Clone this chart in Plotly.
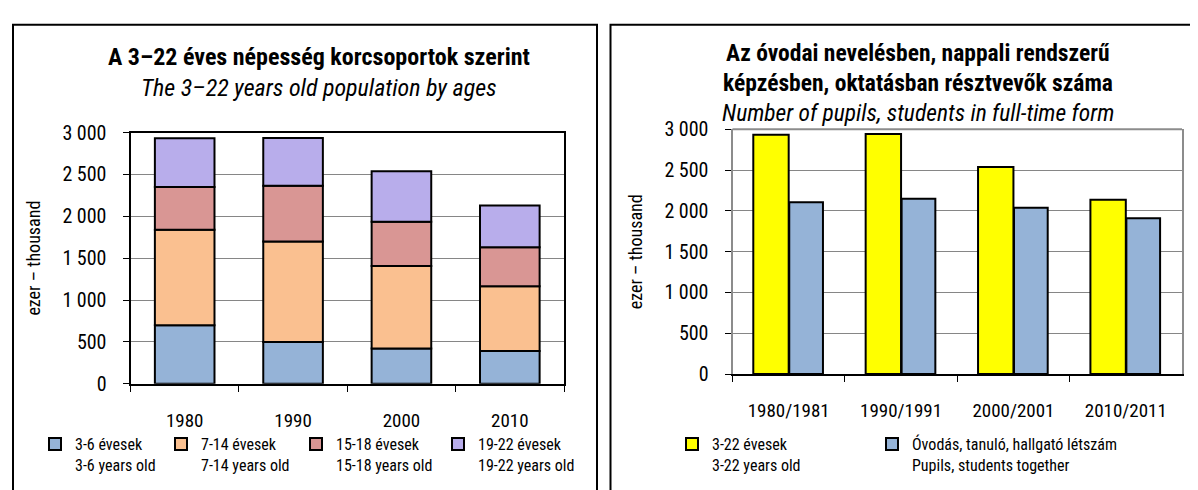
import numpy as np
import plotly.graph_objects as go

# left chart: 3-22 year old population by age groups (thousand)
years = ["1980", "1990", "2000", "2010"]
age_3_6 = [700, 500, 420, 390]
age_7_14 = [1140, 1200, 985, 775]
age_15_18 = [510, 665, 528, 465]
age_19_22 = [580, 570, 605, 500]
age_names = ["3-6 évesek<br>3-6 years old", "7-14 évesek<br>7-14 years old",
             "15-18 évesek<br>15-18 years old", "19-22 évesek<br>19-22 years old"]

# right chart: population vs. pupils/students (thousand)
school_years = ["1980/1981", "1990/1991", "2000/2001", "2010/2011"]
pop_3_22 = [2933, 2942, 2540, 2136]
pupils = [2105, 2148, 2038, 1910]
right_names = ["3-22 évesek<br>3-22 years old",
               "Óvodás, tanuló, hallgató létszám<br>Pupils, students together"]

y_ticks = [0, 500, 1000, 1500, 2000, 2500, 3000]

FONT = "Roboto Condensed, Liberation Sans Narrow, Arial Narrow, sans-serif"
age_colors = ["#95B3D7", "#FAC090", "#D99694", "#B8ADEB"]

W, H = 1198, 490
px = lambda v: v / W
py = lambda v: 1 - v / H

fig = go.Figure()

# one legend per entry so each sits where the original puts it
left_leg_x = [57, 183, 318, 460]
right_leg_x = [694, 894]
legends = {}

# stacked bars drawn with explicit bases (barmode is shared with the grouped chart)
groups = [age_3_6, age_7_14, age_15_18, age_19_22]
base = np.zeros(len(years))
for i, (vals, name, col) in enumerate(zip(groups, age_names, age_colors)):
    lg = "legend" if i == 0 else f"legend{i + 1}"
    legends[lg] = left_leg_x[i]
    fig.add_trace(go.Bar(
        x=years, y=vals, base=base.copy(), name=name, width=0.55,
        marker=dict(color=col, line=dict(color="black", width=2)),
        xaxis="x", yaxis="y", legend=lg))
    base += np.array(vals)

legends["legend5"] = right_leg_x[0]
legends["legend6"] = right_leg_x[1]
fig.add_trace(go.Bar(
    x=school_years, y=pop_3_22, name=right_names[0], width=0.315, offset=-0.315,
    marker=dict(color="#FFFF00", line=dict(color="black", width=2)),
    xaxis="x2", yaxis="y2", legend="legend5"))
fig.add_trace(go.Bar(
    x=school_years, y=pupils, name=right_names[1], width=0.3, offset=0.005,
    marker=dict(color="#95B3D7", line=dict(color="black", width=2)),
    xaxis="x2", yaxis="y2", legend="legend6"))

xcommon = dict(type="category", tickson="boundaries", ticks="outside", ticklen=6,
               tickcolor="black", tickfont=dict(size=19, color="black"),
               ticklabelstandoff=18, showgrid=False, zeroline=False)
ycommon = dict(range=[0, 3000], tickvals=y_ticks, ticks="outside", ticklen=6,
               tickcolor="black", tickformat=",d", showgrid=True, gridcolor="#868686",
               gridwidth=1, zeroline=False, ticklabelstandoff=12,
               tickfont=dict(size=20, color="black"),
               title=dict(text="ezer – thousand", font=dict(size=18, color="black"), standoff=17))

layout_legends = {
    k: dict(orientation="h", x=px(v - 30), y=py(428), xanchor="left", yanchor="top",
            valign="top", font=dict(size=16, color="black"), bgcolor="rgba(0,0,0,0)",
            itemclick=False)
    for k, v in legends.items()
}

fig.update_layout(
    width=W, height=H,
    margin=dict(l=0, r=0, t=0, b=0),
    paper_bgcolor="white", plot_bgcolor="white",
    barmode="overlay",
    separators=", ",
    font=dict(family=FONT, color="black"),
    xaxis=dict(domain=[px(122.5), px(556)], anchor="y",
               showline=True, linecolor="black", linewidth=2, mirror=True, **xcommon),
    yaxis=dict(domain=[py(382.5), py(118.3)], anchor="x",
               showline=True, linecolor="black", linewidth=2, mirror=True, **ycommon),
    xaxis2=dict(domain=[px(724.5), px(1174)], anchor="y2",
                showline=True, linecolor="black", linewidth=2, **xcommon),
    yaxis2=dict(domain=[py(372.3), py(115)], anchor="x2",
                showline=True, linecolor="#8C8C8C", linewidth=2, mirror=True, **ycommon),
    showlegend=True,
    **layout_legends,
)

# top border of the right plot in grey (bottom axis line stays black)
fig.add_shape(type="line", xref="x2 domain", yref="y2 domain", x0=0, x1=1, y0=1, y1=1,
              line=dict(color="#8C8C8C", width=2))

# panel frames
fig.add_shape(type="rect", xref="paper", yref="paper", x0=px(5), x1=px(589),
              y0=-0.05, y1=py(5), line=dict(color="black", width=2))
fig.add_shape(type="rect", xref="paper", yref="paper", x0=px(602.5), x1=px(1193),
              y0=-0.05, y1=py(5), line=dict(color="black", width=2))

titles = [
    (311, 39, "<b>A 3–22 éves népesség korcsoportok szerint</b>", 24),
    (311, 72, "<i>The 3–22 years old population by ages</i>", 24),
    (910, 35, "<b>Az óvodai nevelésben, nappali rendszerű</b>", 23.5),
    (910, 66, "<b>képzésben, oktatásban résztvevők száma</b>", 23.5),
    (910, 98, "<i>Number of pupils, students in full-time form</i>", 23.5),
]
for x, y, t, s in titles:
    fig.add_annotation(x=px(x), y=py(y), xref="paper", yref="paper", text=t,
                       showarrow=False, xanchor="center", yanchor="middle",
                       font=dict(size=s, color="black"))

fig.write_html("out.html")
